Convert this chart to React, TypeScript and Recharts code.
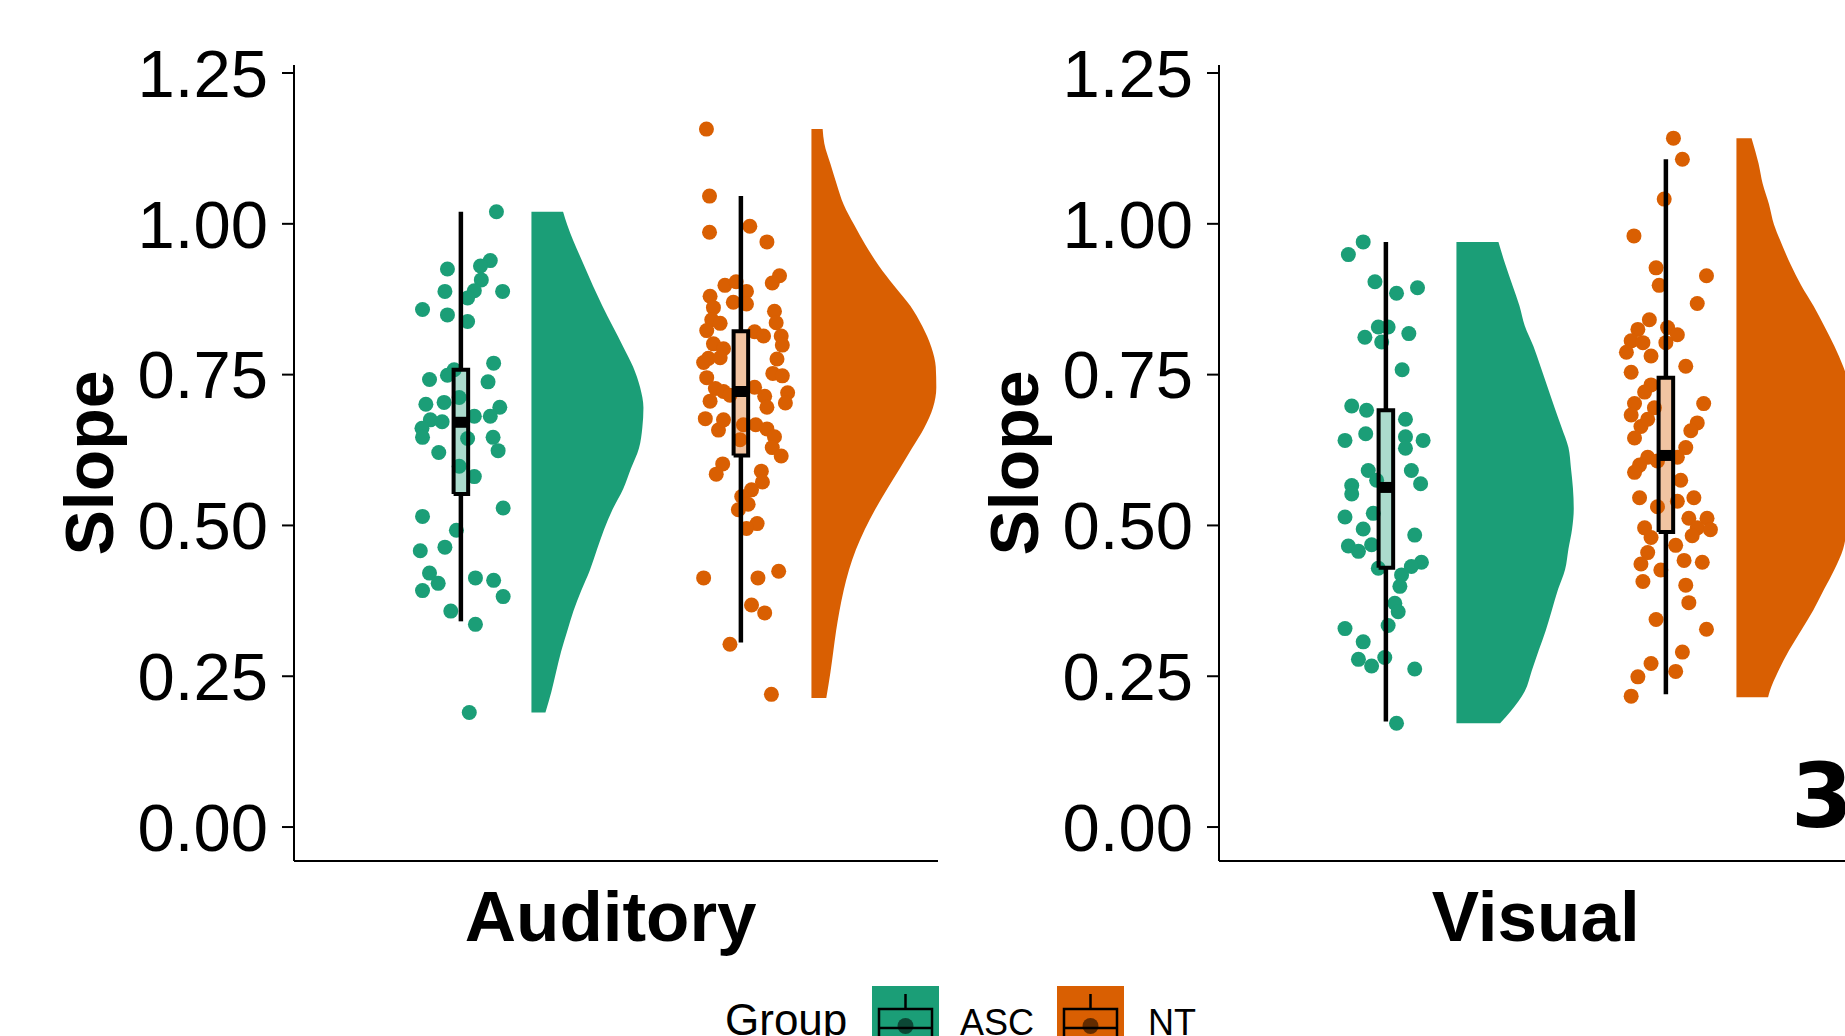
import React from 'react';
import { ComposedChart, Area, Line, Scatter, XAxis, YAxis } from 'recharts';

const groups = ['ASC', 'NT'];
const groupColors = ['#1B9E77', '#D95F02'];
const slopeTicks = [0, 0.25, 0.5, 0.75, 1, 1.25];

// jittered raw points, [jitter, slope]
const auditoryAsc = [
  [0.127, 1.02], [-0.048, 0.925], [0.105, 0.939], [0.07, 0.93], [0.073, 0.907], [0.048, 0.889], [0.024, 0.877],
  [-0.057, 0.888], [0.149, 0.888], [-0.137, 0.858], [-0.048, 0.849], [0.024, 0.838], [0.117, 0.769], [-0.024, 0.758],
  [-0.112, 0.742], [0.097, 0.738], [-0.048, 0.749], [-0.125, 0.701], [-0.06, 0.704], [-0.006, 0.712], [0.139, 0.696],
  [0.105, 0.681], [0.048, 0.681], [-0.109, 0.675], [-0.139, 0.661], [-0.137, 0.646], [-0.067, 0.672], [0.115, 0.646],
  [0.133, 0.624], [0.024, 0.644], [-0.079, 0.621], [0.048, 0.581], [-0.006, 0.598], [0.151, 0.529], [-0.137, 0.515],
  [-0.016, 0.492], [-0.145, 0.458], [-0.057, 0.464], [-0.112, 0.421], [-0.081, 0.404], [-0.137, 0.392], [0.052, 0.413],
  [0.117, 0.409], [0.151, 0.382], [-0.036, 0.358], [0.052, 0.336], [0.03, 0.19],
];
const auditoryNt = [
  [-0.123, 1.157], [-0.112, 1.046], [-0.112, 0.986], [0.032, 0.996], [0.093, 0.97], [0.138, 0.914], [0.112, 0.902],
  [-0.057, 0.898], [-0.017, 0.904], [0.02, 0.888], [-0.027, 0.87], [-0.11, 0.88], [-0.098, 0.861], [0.02, 0.867],
  [0.12, 0.855], [0.126, 0.836], [-0.104, 0.841], [-0.122, 0.823], [-0.074, 0.835], [0.049, 0.821], [0.081, 0.814],
  [0.144, 0.814], [0.148, 0.799], [-0.098, 0.801], [-0.062, 0.793], [-0.116, 0.777], [-0.074, 0.778], [-0.133, 0.77],
  [0.129, 0.776], [0.114, 0.752], [0.148, 0.748], [0.167, 0.72], [0.159, 0.703], [-0.122, 0.745], [-0.091, 0.727],
  [-0.11, 0.706], [-0.062, 0.722], [-0.039, 0.716], [0.049, 0.729], [0.085, 0.714], [0.093, 0.696], [-0.127, 0.677],
  [-0.08, 0.658], [-0.062, 0.675], [0.053, 0.667], [0.093, 0.66], [0.12, 0.647], [0.112, 0.629], [0.144, 0.615],
  [-0.003, 0.642], [0.009, 0.667], [-0.065, 0.602], [-0.088, 0.585], [0.073, 0.59], [0.077, 0.572], [0.038, 0.559],
  [0.003, 0.548], [0.026, 0.535], [-0.009, 0.526], [0.058, 0.503], [0.02, 0.495], [-0.133, 0.413], [0.061, 0.413],
  [0.135, 0.424], [0.038, 0.368], [0.085, 0.355], [-0.039, 0.303], [0.109, 0.22],
];
const visualAsc = [
  [-0.081, 0.97], [-0.134, 0.949], [-0.039, 0.904], [0.038, 0.885], [0.113, 0.894], [-0.075, 0.812], [-0.027, 0.829],
  [0.008, 0.829], [-0.015, 0.804], [0.082, 0.818], [0.058, 0.758], [-0.122, 0.698], [-0.069, 0.691], [0.07, 0.676],
  [-0.146, 0.641], [-0.072, 0.652], [0.07, 0.647], [0.07, 0.628], [0.133, 0.641], [-0.063, 0.591], [-0.033, 0.575],
  [0.091, 0.591], [0.124, 0.569], [-0.122, 0.566], [-0.122, 0.552], [-0.146, 0.514], [-0.045, 0.52], [0.103, 0.484],
  [-0.081, 0.494], [-0.134, 0.466], [-0.098, 0.457], [-0.051, 0.468], [0.127, 0.439], [0.091, 0.432], [0.056, 0.418],
  [0.05, 0.399], [-0.027, 0.429], [0.032, 0.371], [0.044, 0.357], [-0.146, 0.329], [0.008, 0.334], [-0.081, 0.307],
  [-0.098, 0.278], [-0.051, 0.267], [-0.004, 0.281], [0.103, 0.262], [0.038, 0.172],
];
const visualNt = [
  [0.027, 1.142], [0.059, 1.107], [-0.006, 1.041], [-0.114, 0.98], [-0.035, 0.927], [0.145, 0.914], [-0.024, 0.898],
  [0.112, 0.868], [-0.059, 0.841], [-0.1, 0.825], [-0.124, 0.806], [-0.141, 0.787], [-0.053, 0.781], [-0.082, 0.803],
  [0.006, 0.828], [0.041, 0.816], [0, 0.803], [0.071, 0.764], [-0.124, 0.754], [-0.053, 0.733], [-0.076, 0.721],
  [-0.112, 0.702], [-0.124, 0.683], [-0.089, 0.664], [-0.112, 0.645], [-0.041, 0.695], [-0.065, 0.676], [0.135, 0.702],
  [0.112, 0.67], [0.089, 0.657], [0.071, 0.629], [0.041, 0.613], [-0.065, 0.613], [-0.094, 0.6], [-0.112, 0.588],
  [-0.03, 0.607], [0.053, 0.575], [-0.094, 0.546], [-0.03, 0.531], [0.041, 0.54], [0.1, 0.546], [0.082, 0.512],
  [0.147, 0.512], [0.112, 0.496], [0.094, 0.483], [0.159, 0.493], [-0.076, 0.496], [-0.053, 0.48], [-0.065, 0.455],
  [-0.089, 0.436], [0.035, 0.467], [0.065, 0.442], [-0.018, 0.426], [0.13, 0.439], [-0.082, 0.407], [0.071, 0.401],
  [0.082, 0.372], [-0.035, 0.344], [0.145, 0.328], [0.059, 0.29], [-0.053, 0.271], [0.035, 0.258], [-0.1, 0.249],
  [-0.124, 0.217],
];

// boxplot stats: [lower whisker, q1, median, q3, upper whisker]
const auditoryAscBox = [0.341, 0.552, 0.671, 0.758, 1.02];
const auditoryNtBox = [0.306, 0.616, 0.722, 0.822, 1.046];
const visualAscBox = [0.175, 0.43, 0.563, 0.691, 0.97];
const visualNtBox = [0.22, 0.489, 0.616, 0.745, 1.107];

// half violin outline, [slope, width]
const auditoryAscDensity = [
  [1.02, 0.113], [0.998, 0.128], [0.931, 0.188], [0.864, 0.253], [0.796, 0.328], [0.763, 0.363], [0.729, 0.388],
  [0.695, 0.4], [0.662, 0.396], [0.628, 0.384], [0.594, 0.355], [0.561, 0.328], [0.527, 0.29], [0.493, 0.259],
  [0.46, 0.234], [0.426, 0.209], [0.392, 0.178], [0.358, 0.15], [0.325, 0.128], [0.291, 0.106], [0.257, 0.088],
  [0.224, 0.071], [0.19, 0.05],
];
const auditoryNtDensity = [
  [1.157, 0.04], [1.133, 0.046], [1.099, 0.068], [1.066, 0.09], [1.032, 0.115], [0.998, 0.153], [0.965, 0.193],
  [0.931, 0.24], [0.897, 0.296], [0.864, 0.353], [0.83, 0.396], [0.796, 0.428], [0.763, 0.444], [0.729, 0.446],
  [0.695, 0.434], [0.662, 0.403], [0.628, 0.359], [0.594, 0.315], [0.561, 0.271], [0.527, 0.228], [0.493, 0.19],
  [0.46, 0.159], [0.426, 0.134], [0.392, 0.115], [0.358, 0.1], [0.325, 0.088], [0.291, 0.078], [0.257, 0.068],
  [0.214, 0.053],
];
const visualAscDensity = [
  [0.97, 0.15], [0.932, 0.175], [0.898, 0.2], [0.864, 0.225], [0.831, 0.244], [0.797, 0.275], [0.764, 0.3],
  [0.73, 0.325], [0.696, 0.35], [0.663, 0.375], [0.629, 0.4], [0.595, 0.409], [0.562, 0.416], [0.528, 0.419],
  [0.494, 0.413], [0.461, 0.4], [0.427, 0.388], [0.394, 0.363], [0.36, 0.341], [0.326, 0.319], [0.293, 0.294],
  [0.259, 0.269], [0.225, 0.244], [0.192, 0.194], [0.172, 0.156],
];
const visualNtDensity = [
  [1.142, 0.054], [1.1, 0.079], [1.066, 0.094], [1.033, 0.116], [0.999, 0.134], [0.965, 0.163], [0.932, 0.194],
  [0.898, 0.231], [0.864, 0.275], [0.831, 0.313], [0.797, 0.35], [0.764, 0.381], [0.73, 0.406], [0.696, 0.423],
  [0.663, 0.431], [0.629, 0.434], [0.595, 0.431], [0.562, 0.423], [0.528, 0.41], [0.494, 0.395], [0.461, 0.381],
  [0.427, 0.35], [0.394, 0.313], [0.36, 0.275], [0.326, 0.231], [0.293, 0.188], [0.259, 0.15], [0.225, 0.119],
  [0.215, 0.113],
];

const FONT = '"Liberation Sans", Arial, Helvetica, sans-serif';
const VIOLIN_GAP = 0.252;
const BOX_HALF = 0.026;
const X_DOMAIN = [0.404, 2.704];
const Y_DOMAIN = [-0.0563, 1.2633];
const CHART_W = 950;
const CHART_H = 1036;

// one group = half violin + jittered points + boxplot, drawn at x = pos
function groupLayers(
  id: string,
  pos: number,
  color: string,
  points: number[][],
  box: number[],
  density: number[][]
) {
  const [lo, q1, med, q3, hi] = box;
  const violin = [...density]
    .sort((a, b) => a[0] - b[0])
    .map(([s, w]) => ({ y: s, x: [pos + VIOLIN_GAP, pos + VIOLIN_GAP + w] }));
  const pts = points.map(([j, s]) => ({ x: pos + j, y: s }));
  const boxFill = [
    { y: q1, x: [pos - BOX_HALF, pos + BOX_HALF] },
    { y: q3, x: [pos - BOX_HALF, pos + BOX_HALF] },
  ];
  const boxOutline = [
    { x: pos - BOX_HALF, y: q1 },
    { x: pos - BOX_HALF, y: q3 },
    { x: pos + BOX_HALF, y: q3 },
    { x: pos + BOX_HALF, y: q1 },
    { x: pos - BOX_HALF, y: q1 },
  ];
  const lowerWhisker = [{ x: pos, y: lo }, { x: pos, y: q1 }];
  const upperWhisker = [{ x: pos, y: q3 }, { x: pos, y: hi }];
  const median = [{ x: pos - BOX_HALF - 0.004, y: med }, { x: pos + BOX_HALF + 0.004, y: med }];

  const lineProps = {
    dataKey: 'x',
    type: 'linear' as const,
    stroke: '#000',
    dot: false,
    activeDot: false,
    isAnimationActive: false,
    zIndex: 700,
  };

  return [
    <Area key={id + '-violin'} data={violin} dataKey="x" type="monotone" fill={color} fillOpacity={1}
      stroke="none" isAnimationActive={false} activeDot={false} />,
    <Scatter key={id + '-pts'} data={pts} fill={color} isAnimationActive={false}
      shape={(p: any) => <circle cx={p.cx} cy={p.cy} r={7.5} fill={color} />} />,
    <Area key={id + '-boxfill'} data={boxFill} dataKey="x" type="linear" fill={color} fillOpacity={0.37}
      stroke="none" isAnimationActive={false} activeDot={false} zIndex={650} />,
    <Line key={id + '-wlo'} data={lowerWhisker} strokeWidth={4.5} {...lineProps} />,
    <Line key={id + '-whi'} data={upperWhisker} strokeWidth={4.5} {...lineProps} />,
    <Line key={id + '-box'} data={boxOutline} strokeWidth={4} strokeLinejoin="miter" {...lineProps} />,
    <Line key={id + '-med'} data={median} strokeWidth={11} strokeLinecap="butt" {...lineProps} />,
  ];
}

type PanelProps = {
  title: string;
  left: number;
  points: number[][][];
  boxes: number[][];
  densities: number[][][];
};

const Panel = ({ title, left, points, boxes, densities }: PanelProps) => (
  <div style={{ position: 'absolute', left, top: 0 }}>
    <ComposedChart
      width={CHART_W}
      height={CHART_H}
      layout="vertical"
      margin={{ top: 65, right: 12, bottom: 75, left: 0 }}
    >
      <XAxis
        type="number"
        dataKey="x"
        domain={X_DOMAIN}
        allowDataOverflow
        ticks={[1.535]}
        interval={0}
        height={100}
        tickLine={false}
        tickSize={0}
        tickMargin={0}
        axisLine={{ stroke: '#000', strokeWidth: 2 }}
        tick={(p: any) => (
          <text x={p.x} y={p.y + 80} textAnchor="middle" fontFamily={FONT} fontWeight={700}
            fontSize={71} fill="#000">
            {title}
          </text>
        )}
      />
      <YAxis
        type="number"
        dataKey="y"
        reversed
        domain={Y_DOMAIN}
        allowDataOverflow
        ticks={slopeTicks}
        interval={0}
        width={294}
        tickSize={12}
        tickMargin={14}
        tickFormatter={(v: number) => v.toFixed(2)}
        tick={{ fill: '#000', fontSize: 67, fontFamily: FONT }}
        tickLine={{ stroke: '#000', strokeWidth: 2 }}
        axisLine={{ stroke: '#000', strokeWidth: 2 }}
      />
      {groups.map((g, i) =>
        groupLayers(title + g, i + 1, groupColors[i], points[i], boxes[i], densities[i])
      )}
    </ComposedChart>
  </div>
);

const legendKeyX = [872, 1057];
const legendLabelX = [960, 1148];

export default function App() {
  return (
    <div style={{ position: 'relative', width: 1845, height: 1036, overflow: 'hidden', background: '#fff' }}>
      <style>{'body{margin:0;overflow:hidden}'}</style>
      <Panel
        title="Auditory"
        left={0}
        points={[auditoryAsc, auditoryNt]}
        boxes={[auditoryAscBox, auditoryNtBox]}
        densities={[auditoryAscDensity, auditoryNtDensity]}
      />
      <Panel
        title="Visual"
        left={925}
        points={[visualAsc, visualNt]}
        boxes={[visualAscBox, visualNtBox]}
        densities={[visualAscDensity, visualNtDensity]}
      />
      <svg width={1845} height={1036} style={{ position: 'absolute', left: 0, top: 0, pointerEvents: 'none' }}>
        {[0, 925].map((dx) => (
          <text key={dx} transform={`translate(${113 + dx},463) rotate(-90)`} textAnchor="middle"
            fontFamily={FONT} fontWeight={700} fontSize={68} fill="#000">
            Slope
          </text>
        ))}
        <text x={1791} y={827} fontFamily='"DejaVu Sans", sans-serif' fontWeight={700} fontSize={89} fill="#000">
          3
        </text>
        <text x={725} y={1035} fontFamily={FONT} fontSize={44} fill="#000">Group</text>
        {groups.map((g, i) => {
          const kx = legendKeyX[i];
          return (
            <g key={g}>
              <rect x={kx} y={986} width={67} height={60} fill={groupColors[i]} />
              <rect x={kx + 7} y={1009} width={53} height={40} fill="none" stroke="#000" strokeWidth={2.5} />
              <line x1={kx + 7} x2={kx + 60} y1={1028} y2={1028} stroke="#000" strokeWidth={2.5} />
              <line x1={kx + 33.5} x2={kx + 33.5} y1={994} y2={1009} stroke="#000" strokeWidth={2.5} />
              <circle cx={kx + 33.5} cy={1026} r={8} fill="#000" fillOpacity={0.55} />
              <text x={legendLabelX[i]} y={1035} fontFamily={FONT} fontSize={36} fill="#000">{g}</text>
            </g>
          );
        })}
      </svg>
    </div>
  );
}
